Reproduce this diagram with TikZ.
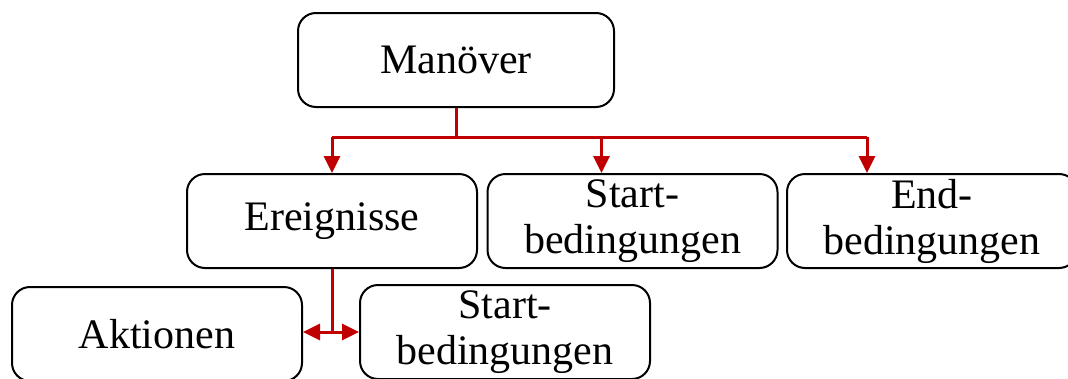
\documentclass[tikz,border=0pt]{standalone}
\usepackage{fontspec}
\setmainfont{Liberation Serif}
\usetikzlibrary{arrows.meta,calc}
\definecolor{linkred}{RGB}{192,0,0}
\begin{document}
\begin{tikzpicture}[x=1pt,y=-1pt,
  box/.style={draw=black, line width=2pt, rounded corners=18pt,
    minimum width=290pt, minimum height=94pt, align=center, inner sep=0pt,
    font=\fontsize{42}{46}\selectfont},
  link/.style={draw=linkred, line width=3pt},
  tip/.style={-{Triangle[length=17pt,width=16pt]}},
  both/.style={{Triangle[length=17pt,width=16pt]}-{Triangle[length=17pt,width=16pt]}}]
  \useasboundingbox (0,0) rectangle (1068,378);
  \clip (0,0) rectangle (1068,378);

  % top level
  \node[box, minimum width=316pt] (m) at (456,60) {Manöver};

  % second row
  \node[box] (e)  at (332,221) {Ereignisse};
  \node[box] (s)  at (632.5,221) {Start-\\bedingungen};
  \node[box] (en) at (932,221) {End-\\bedingungen};

  % third row
  \node[box] (a)  at (157,334) {Aktionen};
  \node[box] (s2) at (505,332) {Start-\\bedingungen};

  % branching from the top box
  \coordinate (j) at (m.south |- 0,137);
  \coordinate (sa) at ($(s.north west)+(115,0)$);
  \coordinate (ea) at ($(en.north west)+(81,0)$);
  \draw[link] (m.south) -- (j);
  \draw[link] (e.north |- j) -- (ea |- j);
  \draw[link,tip] (e.north |- j) -- (e.north);
  \draw[link,tip] (sa |- j) -- (sa);
  \draw[link,tip] (ea |- j) -- (ea);

  % branching from Ereignisse
  \coordinate (k) at (e.south |- s2.west);
  \draw[link] (e.south) -- (k);
  \draw[link,both] (a.east |- k) -- (s2.west);
\end{tikzpicture}
\end{document}
